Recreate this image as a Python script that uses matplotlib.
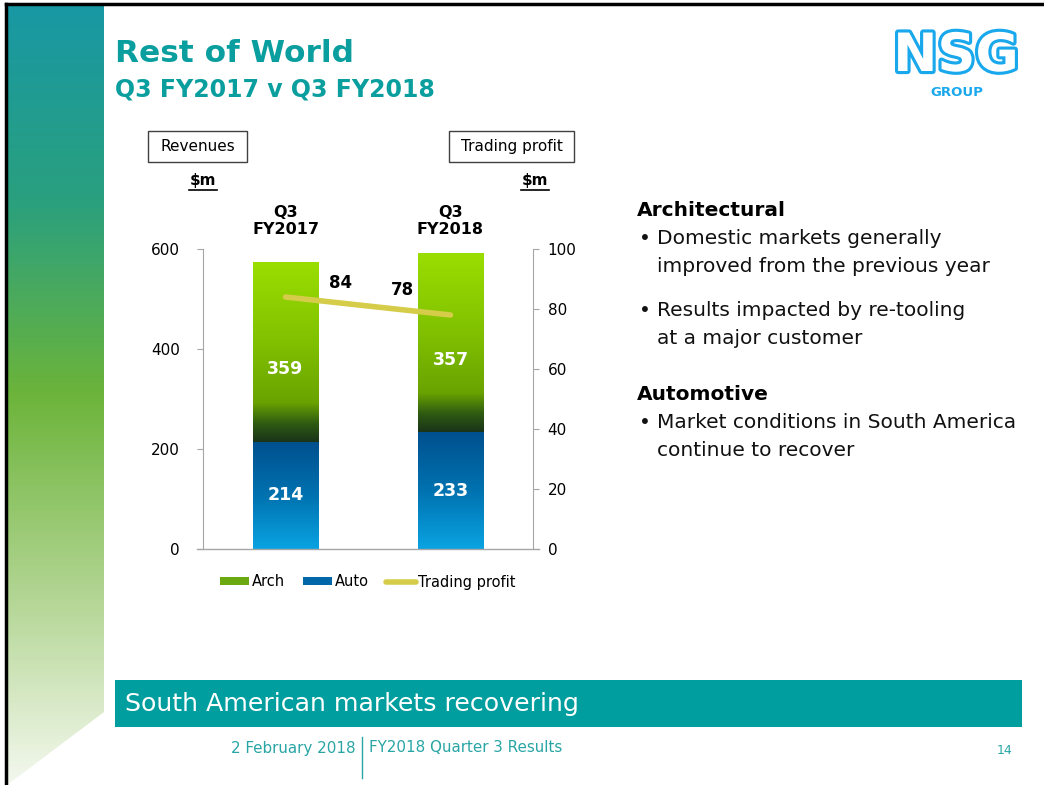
import numpy as np
import matplotlib
matplotlib.use('Agg')
import matplotlib.pyplot as plt
from matplotlib.colors import LinearSegmentedColormap
from matplotlib.patches import Rectangle, Polygon, Patch
from matplotlib.lines import Line2D
import matplotlib.patheffects as pe

plt.rcParams['font.family'] = ['DejaVu Sans']

# ---- data ----
periods = ['Q3\nFY2017', 'Q3\nFY2018']
auto_rev = [214, 233]
arch_rev = [359, 357]
trading_profit = [84, 78]
rev_ticks = [0, 200, 400, 600]
tp_ticks = [0, 20, 40, 60, 80, 100]

TEAL = '#0a9e9e'
GREY = '#a6a6a6'

fig = plt.figure(figsize=(10.44, 7.85), dpi=100)

# background axes in pixel coordinates for slide decorations
bg = fig.add_axes([0, 0, 1, 1])
bg.set_xlim(0, 1044)
bg.set_ylim(785, 0)
bg.axis('off')

# left sidebar gradient
side_cmap = LinearSegmentedColormap.from_list(
    'side', [(0, '#1898a4'), (0.25, '#2aa07e'), (0.5, '#6cb43a'),
             (0.75, '#b0d490'), (1.0, '#f4f8ee')])
grad = np.linspace(0, 1, 256).reshape(-1, 1)
im = bg.imshow(grad, extent=(7, 104, 785, 5), cmap=side_cmap, aspect='auto')
poly = Polygon([(7, 5), (104, 5), (104, 712), (7, 785)], closed=True,
               facecolor='none', edgecolor='none')
bg.add_patch(poly)
im.set_clip_path(poly)
bg.set_xlim(0, 1044)
bg.set_ylim(785, 0)

# slide frame
bg.plot([6, 1044], [4, 4], color='black', lw=2.5)
bg.plot([6, 6], [4, 785], color='black', lw=2.5)

# title
bg.text(115, 54, 'Rest of World', color=TEAL, fontsize=22.5, fontweight='bold', va='center')
bg.text(115, 90, 'Q3 FY2017 v Q3 FY2018', color=TEAL, fontsize=17, fontweight='bold', va='center')

# logo
bg.text(956, 56, 'NSG', color='white', fontsize=38, fontweight='bold', ha='center', va='center',
        path_effects=[pe.Stroke(linewidth=4.5, foreground='#19a8ec'), pe.Normal()])
bg.text(957, 93, 'GROUP', color='#19a8ec', fontsize=9.5, fontweight='bold', ha='center', va='center')

# header boxes
bg.add_patch(Rectangle((148, 131), 99, 31, facecolor='white', edgecolor='#404040', lw=1))
bg.text(197.5, 146.5, 'Revenues', fontsize=11, ha='center', va='center')
bg.add_patch(Rectangle((449, 131), 125, 31, facecolor='white', edgecolor='#404040', lw=1))
bg.text(511.5, 146.5, 'Trading profit', fontsize=11, ha='center', va='center')
for xc in (203, 535):
    bg.text(xc, 181, '$m', fontsize=11, fontweight='bold', ha='center', va='center')
    bg.plot([xc - 14, xc + 14], [190, 190], color='black', lw=1.2)

# right-hand commentary
txt_kw = dict(fontsize=14.5, va='center', color='#111111')
bg.text(637, 210, 'Architectural', fontsize=14.5, fontweight='bold', va='center')
bg.text(639, 238, '•', **txt_kw)
bg.text(657, 238, 'Domestic markets generally', **txt_kw)
bg.text(657, 266, 'improved from the previous year', **txt_kw)
bg.text(639, 311, '•', **txt_kw)
bg.text(657, 311, 'Results impacted by re-tooling', **txt_kw)
bg.text(657, 338, 'at a major customer', **txt_kw)
bg.text(637, 394, 'Automotive', fontsize=14.5, fontweight='bold', va='center')
bg.text(639, 422, '•', **txt_kw)
bg.text(657, 422, 'Market conditions in South America', **txt_kw)
bg.text(657, 450, 'continue to recover', **txt_kw)

# bottom banner and footer
bg.add_patch(Rectangle((115, 680), 907, 47, facecolor='#009e9e', edgecolor='none'))
bg.text(125, 704, 'South American markets recovering', color='white', fontsize=18.2, va='center')
bg.text(356, 748, '2 February 2018', color='#2aa5a5', fontsize=10.9, ha='right', va='center')
bg.plot([362, 362], [737, 778], color='#2aa5a5', lw=1)
bg.text(369, 748, 'FY2018 Quarter 3 Results', color='#2aa5a5', fontsize=10.9, va='center')
bg.text(1005, 750, '14', color='#2aa5a5', fontsize=9, ha='center', va='center')

# ---- chart ----
ax = fig.add_axes([203 / 1044, 1 - 549 / 785, 330 / 1044, 300 / 785])
x = np.arange(len(periods))
width = 0.4

auto_cmap = LinearSegmentedColormap.from_list('auto', ['#0aa3e2', '#0072b0', '#00508e'])
arch_cmap = LinearSegmentedColormap.from_list(
    'arch', [(0, '#1a3419'), (0.1, '#2e5a12'), (0.22, '#6aa300'), (0.55, '#80c000'), (1.0, '#9ade00')])

auto_bars = ax.bar(x, auto_rev, width, facecolor='none', edgecolor='none')
arch_bars = ax.bar(x, arch_rev, width, bottom=auto_rev, facecolor='none', edgecolor='none')
for bars, cmap in ((auto_bars, auto_cmap), (arch_bars, arch_cmap)):
    for p in bars:
        x0, y0 = p.get_x(), p.get_y()
        ax.imshow(grad, extent=(x0, x0 + p.get_width(), y0, y0 + p.get_height()),
                  origin='lower', cmap=cmap, aspect='auto', zorder=2)

lbl_kw = dict(color='white', fontsize=12.5, fontweight='bold', ha='center', va='center',
              textcoords='offset pixels')
for i in range(len(periods)):
    ax.annotate(str(auto_rev[i]), (x[i], auto_rev[i] / 2), xytext=(0, 0), **lbl_kw)
    ax.annotate(str(arch_rev[i]), (x[i], auto_rev[i] + arch_rev[i] / 2), xytext=(0, -17), **lbl_kw)
    ax.text(x[i], 1.093, periods[i], transform=ax.get_xaxis_transform(), ha='center', va='center',
            fontsize=11.5, fontweight='bold', linespacing=1.15)

ax.set_xlim(-0.5, 1.5)
ax.set_ylim(0, 600)
ax.set_yticks(rev_ticks)
ax.set_xticks([])
for s in ('top', 'right', 'bottom'):
    ax.spines[s].set_visible(False)
ax.spines['left'].set_color(GREY)
ax.tick_params(axis='y', direction='out', length=4.5, color=GREY, labelsize=11, pad=12)
ax.axhline(0, xmin=-0.018, xmax=1.018, color=GREY, lw=1, clip_on=False, zorder=3)

ax2 = ax.twinx()
tp_color = '#d5cc4a'
ax2.plot(x, trading_profit, color=tp_color, lw=4, solid_capstyle='round', zorder=4)
ax2.set_ylim(0, 100)
ax2.set_yticks(tp_ticks)
for s in ('top', 'left', 'bottom'):
    ax2.spines[s].set_visible(False)
ax2.spines['right'].set_color(GREY)
ax2.tick_params(axis='y', direction='out', length=4.5, color=GREY, labelsize=11, pad=6)
ax2.annotate(str(trading_profit[0]), (x[0], trading_profit[0]), xytext=(55, 14),
             textcoords='offset pixels', ha='center', va='center', fontsize=12, fontweight='bold')
ax2.annotate(str(trading_profit[1]), (x[1], trading_profit[1]), xytext=(-48, 25),
             textcoords='offset pixels', ha='center', va='center', fontsize=12, fontweight='bold')

handles = [Patch(facecolor='#6aaa10'), Patch(facecolor='#0068a8'),
           Line2D([], [], color=tp_color, lw=4, solid_capstyle='round')]
ax2.legend(handles, ['Arch', 'Auto', 'Trading profit'], loc='center', bbox_to_anchor=(0.5, -0.11),
           ncol=3, frameon=False, fontsize=10.5, handlelength=2.0, handleheight=0.45,
           handletextpad=0.2, columnspacing=1.2)

fig.savefig('out.png', dpi=100)
